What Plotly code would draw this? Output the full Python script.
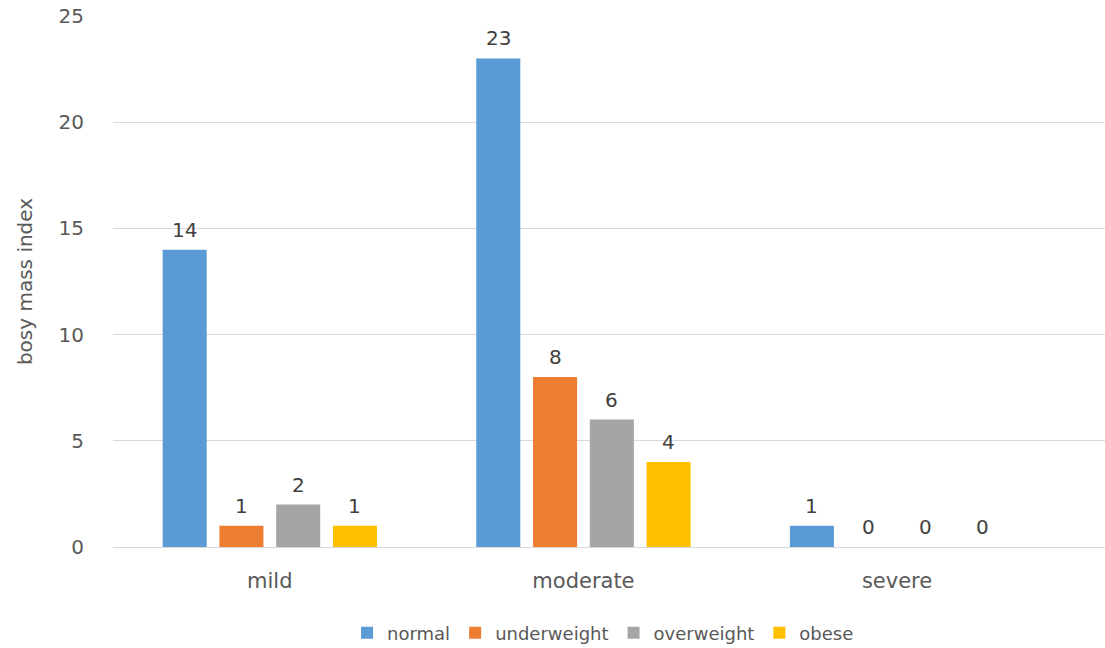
import plotly.graph_objects as go

# Severity groups and BMI class counts
categories = ["mild", "moderate", "severe"]
series_names = ["normal", "underweight", "overweight", "obese"]
normal = [14, 23, 1]
underweight = [1, 8, 0]
overweight = [2, 6, 0]
obese = [1, 4, 0]
y_ticks = [0, 5, 10, 15, 20, 25]

series_values = [normal, underweight, overweight, obese]
colors = ["#5B9BD5", "#ED7D31", "#A5A5A5", "#FFC000"]

FONT = "DejaVu Sans, Verdana, sans-serif"
TEXT_COLOR = "#595959"
BARGAP = 0.276
BARGROUPGAP = 0.224

fig = go.Figure()
for name, vals, col in zip(series_names, series_values, colors):
    fig.add_trace(go.Bar(
        name=name, x=categories, y=vals,
        marker=dict(color=col, line=dict(width=0)),
    ))

# Value labels sitting above each bar
slot = (1 - BARGAP) / len(series_names)
for j, vals in enumerate(series_values):
    for i, v in enumerate(vals):
        fig.add_annotation(
            x=i + (j - (len(series_names) - 1) / 2) * slot, y=v,
            xref="x", yref="y", text=str(v), showarrow=False,
            yanchor="bottom", yshift=6,
            font=dict(family=FONT, size=20, color="#404040"),
        )

fig.update_layout(
    width=1105, height=648,
    margin=dict(l=113, r=0, t=16, b=101, autoexpand=False),
    paper_bgcolor="white", plot_bgcolor="white",
    barmode="group", bargap=BARGAP, bargroupgap=BARGROUPGAP,
    font=dict(family=FONT, size=20, color=TEXT_COLOR),
    showlegend=True,
    legend=dict(
        orientation="h", x=0.494, xanchor="center", y=-0.162, yanchor="middle",
        font=dict(family=FONT, size=18, color=TEXT_COLOR),
        itemsizing="constant", traceorder="normal",
    ),
)

fig.update_xaxes(
    type="category", range=[-0.5, 2.663],
    showgrid=False, showline=False, zeroline=False,
    ticks="", ticklabelstandoff=19, automargin=False,
    tickfont=dict(family=FONT, size=21, color=TEXT_COLOR),
)
fig.update_yaxes(
    range=[0, 25], tickvals=y_ticks,
    showgrid=True, gridcolor="#D9D9D9", gridwidth=1,
    zeroline=True, zerolinecolor="#D9D9D9", zerolinewidth=1,
    showline=False, ticks="", ticklabelstandoff=28,
    tickfont=dict(family=FONT, size=20, color=TEXT_COLOR),
    title=dict(text="bosy mass index", standoff=20,
               font=dict(family=FONT, size=20, color=TEXT_COLOR)),
    automargin=False,
)

fig.write_html("out.html")
